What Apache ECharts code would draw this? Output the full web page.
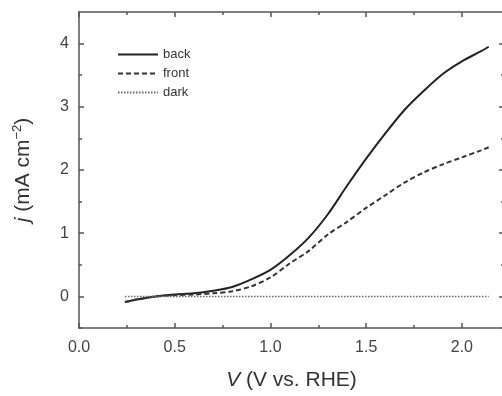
<!DOCTYPE html>
<html>
<head>
    <meta charset="utf-8">
    <title>j-V curves</title>
    <script src="https://cdn.jsdelivr.net/npm/echarts@6/dist/echarts.min.js"></script>
</head>
<body style="margin:0;background:#fff;">
    <div id="main" style="width:502px;height:396px;"></div>
    <script type="text/javascript">
        // potential (V vs. RHE) and current densities
        var vBack  = [0.24, 0.3, 0.4, 0.5, 0.6, 0.7, 0.8, 0.9, 1.0, 1.1, 1.2, 1.3, 1.4, 1.5, 1.6, 1.7, 1.8, 1.9, 2.0, 2.1, 2.14];
        var jBack  = [-0.09, -0.05, 0.0, 0.03, 0.05, 0.09, 0.15, 0.27, 0.42, 0.65, 0.93, 1.30, 1.75, 2.18, 2.58, 2.95, 3.25, 3.52, 3.72, 3.88, 3.95];
        var vFront = [0.24, 0.3, 0.4, 0.5, 0.6, 0.7, 0.8, 0.9, 1.0, 1.1, 1.2, 1.3, 1.4, 1.5, 1.6, 1.7, 1.8, 1.9, 2.0, 2.1, 2.14];
        var jFront = [-0.09, -0.05, 0.0, 0.02, 0.03, 0.05, 0.08, 0.16, 0.30, 0.52, 0.72, 0.98, 1.18, 1.40, 1.60, 1.80, 1.96, 2.09, 2.20, 2.31, 2.36];
        var vDark  = [0.24, 0.5, 1.0, 1.5, 2.0, 2.14];
        var jDark  = [0, 0, 0, 0, 0, 0];
        var names  = ['back', 'front', 'dark'];

        // tick positions
        var xMajor = [0, 0.5, 1.0, 1.5, 2.0];
        var xMinor = [0.25, 0.75, 1.25, 1.75];
        var yMajor = [0, 1, 2, 3, 4];
        var yMinor = [-0.5, 0.5, 1.5, 2.5, 3.5];

        function pairs(xs, ys) {
            return xs.map(function (x, i) { return [x, ys[i]]; });
        }

        var axisColor = '#555';
        var labelFont = { fontFamily: 'Liberation Sans', fontSize: 16, color: '#444' };
        var X_MAX = 2.22;

        // one axis drawing the frame line + major ticks, or only minor ticks
        function tickAxis(position, min, max, ticks, len, withLine, extra) {
            var a = {
                type: 'value',
                position: position,
                offset: 0,
                min: min, max: max,
                axisLine: { show: withLine, onZero: false, lineStyle: { color: axisColor, width: 1.5 } },
                axisTick: { show: true, inside: true, length: len, customValues: ticks, lineStyle: { color: axisColor, width: 1.5 } },
                axisLabel: { show: false },
                splitLine: { show: false }
            };
            return Object.assign(a, extra || {});
        }

        var chart = echarts.init(document.getElementById('main'));
        var option = {
            animation: false,
            // the right frame line sits just past the picture's edge
            grid: { left: 79, top: 12, width: 425, bottom: 68, outerBoundsMode: 'none' },
            legend: {
                data: names,
                orient: 'vertical',
                left: 112,
                top: 43,
                itemWidth: 40,
                itemHeight: 14,
                itemGap: 6,
                itemStyle: { opacity: 0 },
                textStyle: { fontFamily: 'Liberation Sans', fontSize: 13, color: '#333' }
            },
            xAxis: [
                tickAxis('bottom', 0, X_MAX, xMajor, 5, true, {
                    name: '{i|V} (V vs. RHE)',
                    nameLocation: 'middle',
                    nameGap: 42,
                    nameTextStyle: {
                        fontFamily: 'Liberation Sans', fontSize: 21, color: '#333',
                        rich: { i: { fontFamily: 'Liberation Sans', fontSize: 21, fontStyle: 'italic', color: '#333' } }
                    },
                    axisLabel: Object.assign({
                        show: true, margin: 12, customValues: xMajor,
                        formatter: function (v) { return v.toFixed(1); }
                    }, labelFont)
                }),
                tickAxis('bottom', 0, X_MAX, xMinor, 3, false),
                tickAxis('top', 0, X_MAX, xMajor, 5, true),
                tickAxis('top', 0, X_MAX, xMinor, 3, false)
            ],
            yAxis: [
                tickAxis('left', -0.5, 4.5, yMajor, 5, true, {
                    name: '{i|j} (mA cm{s|−2})',
                    nameLocation: 'middle',
                    nameGap: 44,
                    nameTextStyle: {
                        fontFamily: 'Liberation Sans', fontSize: 21, color: '#333', lineHeight: 24,
                        rich: {
                            i: { fontFamily: 'Liberation Sans', fontSize: 21, fontStyle: 'italic', color: '#333', lineHeight: 24 },
                            s: { fontFamily: 'Liberation Sans', fontSize: 13, color: '#333', verticalAlign: 'top', lineHeight: 24 }
                        }
                    },
                    axisLabel: Object.assign({
                        show: true, margin: 10, customValues: yMajor,
                        formatter: function (v) { return String(v); }
                    }, labelFont)
                }),
                tickAxis('left', -0.5, 4.5, yMinor, 3, false),
                tickAxis('right', -0.5, 4.5, yMajor, 5, true),
                tickAxis('right', -0.5, 4.5, yMinor, 3, false)
            ],
            series: [
                {
                    name: names[0], type: 'line', symbol: 'none', smooth: 0.3,
                    data: pairs(vBack, jBack),
                    lineStyle: { color: '#222', width: 2, type: 'solid' },
                    itemStyle: { color: '#222' }
                },
                {
                    name: names[1], type: 'line', symbol: 'none', smooth: 0.3,
                    data: pairs(vFront, jFront),
                    lineStyle: { color: '#333', width: 2, type: [5, 3] },
                    itemStyle: { color: '#333' }
                },
                {
                    name: names[2], type: 'line', symbol: 'none',
                    data: pairs(vDark, jDark),
                    lineStyle: { color: '#666', width: 1.5, type: [1.5, 1.5] },
                    itemStyle: { color: '#666' }
                }
            ]
        };
        chart.setOption(option);
    </script>
</body>
</html>
